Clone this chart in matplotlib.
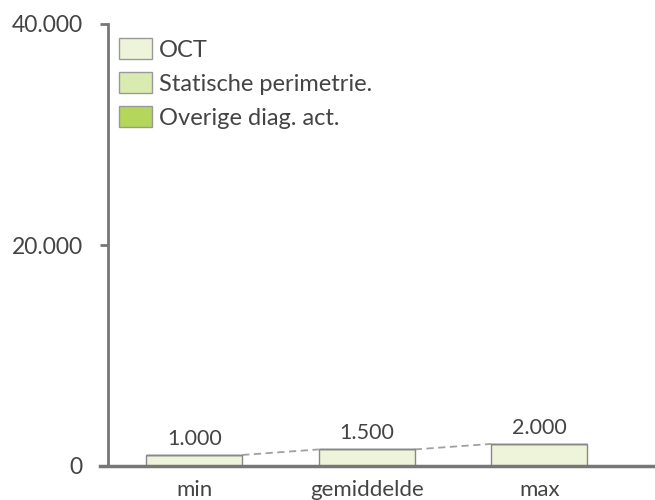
import matplotlib
matplotlib.use("Agg")
import matplotlib.pyplot as plt
from matplotlib.ticker import FuncFormatter
import numpy as np

categories = ["min", "gemiddelde", "max"]
series_names = ["OCT", "Statische perimetrie.", "Overige diag. act."]
oct_vals = [1000, 1500, 2000]
stat_vals = [0, 0, 0]
overig_vals = [0, 0, 0]
series_values = [oct_vals, stat_vals, overig_vals]
colors = ["#eef4da", "#d9ebb1", "#b4d65a"]
yticks = [0, 20000, 40000]

plt.rcParams['font.family'] = ['Lato', 'DejaVu Sans']
text_color = "#444444"
axis_color = "#777777"

fig = plt.figure(figsize=(6.55, 5.0), dpi=100)
ax = fig.add_axes([108/655, 1 - 466/500, 1 - 108/655, (466 - 24)/500])

x = np.arange(len(categories))
width = 0.556
bottom = np.zeros(len(categories))
handles = []
for name, vals, c in zip(series_names, series_values, colors):
    vals = np.array(vals, dtype=float)
    b = ax.bar(x, vals, width, bottom=bottom, color=c, edgecolor="#888888",
               linewidth=1.0, label=name, zorder=2)
    handles.append(b)
    bottom += vals

totals = bottom
for i, t in enumerate(totals):
    ax.text(x[i], t + 550, f"{int(t):,}".replace(",", "."), ha="center", va="bottom",
            fontsize=15.5, color=text_color)

for i in range(len(categories) - 1):
    ax.plot([x[i] + width/2, x[i+1] - width/2], [totals[i], totals[i+1]],
            color="#a0a0a0", linestyle=(0, (4, 2.5)), linewidth=1.3, zorder=1)

ax.set_xlim(-0.5, 2.671)
ax.set_ylim(0, 40000)
ax.set_yticks(yticks)
ax.yaxis.set_major_formatter(FuncFormatter(lambda v, p: f"{int(v):,}".replace(",", ".")))
ax.set_xticks(x)
ax.set_xticklabels(categories)

for s in ["top", "right"]:
    ax.spines[s].set_visible(False)
ax.spines["left"].set_color(axis_color)
ax.spines["left"].set_linewidth(2)
ax.spines["bottom"].set_visible(False)
ax.axhline(0, xmin=-8/547, xmax=1, color=axis_color, linewidth=2.5, clip_on=False, zorder=3)

ax.tick_params(axis="y", length=6, width=2, color=axis_color, pad=12,
               labelsize=16.5, labelcolor=text_color)
ax.tick_params(axis="x", length=0, pad=10, labelsize=16, labelcolor=text_color)

leg = ax.legend(handles=handles, labels=series_names, loc="upper left",
                bbox_to_anchor=(-0.011, 1.005), frameon=False, fontsize=17,
                handlelength=1.4, handleheight=1.0, labelspacing=0.48,
                handletextpad=0.3, borderaxespad=0.3)
for t in leg.get_texts():
    t.set_color(text_color)
for p in leg.get_patches():
    p.set_edgecolor("#999999")

fig.savefig("out.png", dpi=100)
